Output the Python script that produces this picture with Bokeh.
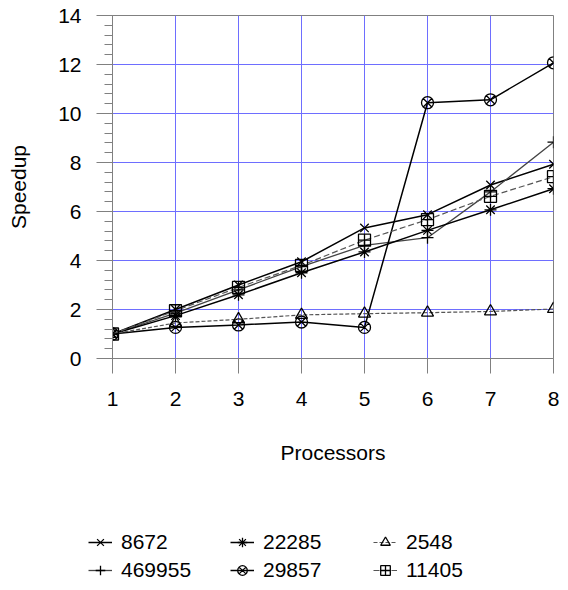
from bokeh.plotting import figure
from bokeh.models import Range1d, Legend, LegendItem, FixedTicker
from bokeh.layouts import column
from bokeh.embed import file_html
from bokeh.resources import INLINE

processors = [1, 2, 3, 4, 5, 6, 7, 8]
s8672 = [1.0, 2.0, 3.0, 3.95, 5.33, 5.87, 7.08, 7.93]
s22285 = [1.0, 1.75, 2.6, 3.5, 4.35, 5.23, 6.07, 6.93]
s2548 = [1.0, 1.45, 1.6, 1.78, 1.83, 1.87, 1.92, 2.02]
s469955 = [1.0, 1.85, 2.8, 3.75, 4.62, 4.93, 6.8, 8.83]
s29857 = [1.0, 1.27, 1.37, 1.49, 1.27, 10.44, 10.56, 12.07]
s11405 = [1.0, 1.95, 2.9, 3.8, 4.83, 5.67, 6.62, 7.42]
y_ticks = [0, 2, 4, 6, 8, 10, 12, 14]

FONT = "Liberation Sans"
FS = "21px"
AX = "#808080"

p = figure(width=560, height=520, output_backend="svg", toolbar_location=None,
           x_range=Range1d(1, 8), y_range=Range1d(0, 14),
           min_border_left=112, min_border_right=7, min_border_top=15,
           min_border_bottom=162)
p.outline_line_color = AX
p.background_fill_color = "white"
p.border_fill_color = "white"

p.xaxis.ticker = FixedTicker(ticks=processors)
p.yaxis.ticker = FixedTicker(ticks=y_ticks,
                             minor_ticks=[i * 0.4 for i in range(36)])
for ax in (p.xaxis[0], p.yaxis[0]):
    ax.axis_line_color = AX
    ax.major_tick_line_color = AX
    ax.minor_tick_line_color = AX
    ax.major_tick_in = 0
    ax.minor_tick_in = 0
    ax.major_label_text_font = FONT
    ax.major_label_text_font_size = FS
    ax.major_label_text_color = "black"
    ax.axis_label_text_font = FONT
    ax.axis_label_text_font_size = FS
    ax.axis_label_text_font_style = "normal"
    ax.axis_label_text_color = "black"
p.xaxis.major_tick_out = 15
p.xaxis.minor_tick_out = 0
p.xaxis.minor_tick_line_color = None
p.yaxis.major_tick_out = 16
p.yaxis.minor_tick_out = 8
p.xaxis.major_label_standoff = 18
p.yaxis.major_label_standoff = 15
p.xaxis.axis_label = "Processors"
p.yaxis.axis_label = "Speedup"
p.xaxis.axis_label_standoff = 32
p.yaxis.axis_label_standoff = 25

p.xgrid.ticker = FixedTicker(ticks=processors)
p.ygrid.ticker = FixedTicker(ticks=y_ticks)
p.grid.grid_line_color = "#6e6eff"
p.grid.grid_line_width = 1

series = [
    ("8672", s8672, "x", "black", "solid", 1.5),
    ("469955", s469955, "cross", "#444444", "solid", 1.3),
    ("22285", s22285, "asterisk", "black", "solid", 1.5),
    ("29857", s29857, "circle_x", "black", "solid", 1.5),
    ("2548", s2548, "triangle", "#555555", "4 2", 1.2),
    ("11405", s11405, "square_cross", "#555555", "6 3", 1.2),
]

# legend strip below the chart (its own ranges keep the series out of view)
lp = figure(width=560, height=62, output_backend="svg", toolbar_location=None,
            x_range=Range1d(-2, -1), y_range=Range1d(-2, -1),
            x_axis_type=None, y_axis_type=None,
            min_border_left=0, min_border_right=0, min_border_top=0,
            min_border_bottom=0)
lp.outline_line_color = None
lp.grid.visible = False
lp.background_fill_color = "white"
lp.border_fill_color = "white"

for fig in (p, lp):
    if "frame_align" in fig.properties():
        fig.frame_align = False

items = {}
for name, ys, marker, col, dash, lw in series:
    p.line(processors, ys, line_color=col, line_width=lw, line_dash=dash)
    p.scatter(processors, ys, marker=marker, size=12, line_color="black",
              line_width=1.3, fill_color=None)
    lr = lp.line(processors, ys, line_color=col, line_width=lw, line_dash=dash)
    sr = lp.scatter(processors, ys, marker=marker, line_color="black",
                    line_width=1.3, fill_color=None)
    items[name] = LegendItem(label=name, renderers=[lr, sr])

legend_cols = [(["8672", "469955"], 88), (["22285", "29857"], 230),
               (["2548", "11405"], 373)]
for names, vx in legend_cols:
    lg = Legend(items=[items[n] for n in names], location=(vx, 0),
                orientation="vertical", glyph_width=24, glyph_height=24,
                spacing=4, padding=0, margin=0, label_standoff=9,
                label_text_font=FONT, label_text_font_size=FS,
                label_text_color="black",
                border_line_color=None, background_fill_alpha=0)
    lp.add_layout(lg, "center")

layout = column(p, lp, spacing=0)
open("out.html", "w").write(file_html(layout, INLINE))
